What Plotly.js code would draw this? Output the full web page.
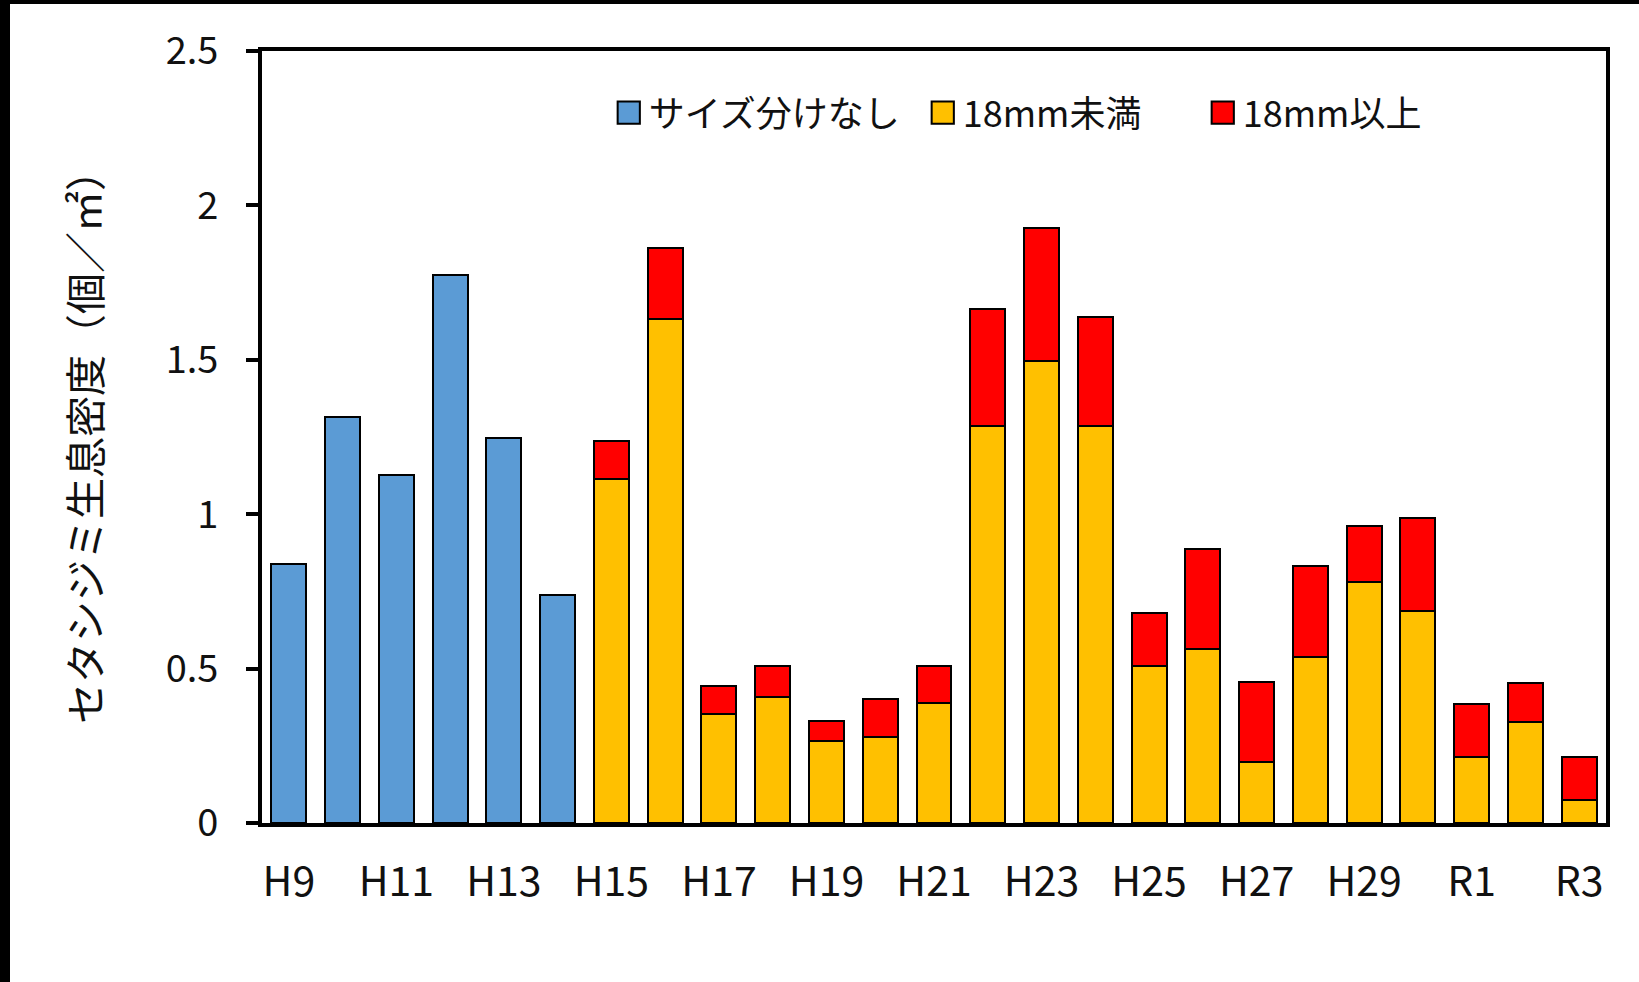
<!DOCTYPE html>
<html>
<head>
<meta charset="utf-8">
<script src="https://cdn.plot.ly/plotly-3.0.1.min.js"></script>
<style>
  html, body { margin: 0; padding: 0; background: #000; width: 1639px; height: 982px; overflow: hidden; }
  #chart { position: absolute; left: 10px; top: 4px; width: 1629px; height: 978px; background: #fff; }
</style>
</head>
<body>
<div id="chart"></div>
<script>
// Categories (fiscal years)
const categories = ['H9','H10','H11','H12','H13','H14','H15','H16','H17','H18','H19','H20','H21',
                    'H22','H23','H24','H25','H26','H27','H28','H29','H30','R1','R2','R3'];
// Tick labels shown on the x axis
const tickCats   = ['H9','H11','H13','H15','H17','H19','H21','H23','H25','H27','H29','R1','R3'];

// Series values (個/㎡)
const noSizeSplit = [0.840, 1.314, 1.128, 1.775, 1.247, 0.737,
                     null, null, null, null, null, null, null, null, null, null, null, null, null, null, null, null, null, null, null];
const under18mm   = [null, null, null, null, null, null,
                     1.114, 1.633, 0.353, 0.408, 0.266, 0.278, 0.388, 1.285, 1.495, 1.285,
                     0.509, 0.563, 0.197, 0.538, 0.780, 0.687, 0.214, 0.326, 0.076];
const over18mm    = [null, null, null, null, null, null,
                     0.122, 0.228, 0.090, 0.101, 0.063, 0.123, 0.120, 0.379, 0.433, 0.355,
                     0.172, 0.325, 0.260, 0.294, 0.182, 0.301, 0.172, 0.129, 0.138];

const seriesNames = ['サイズ分けなし', '18mm未満', '18mm以上'];
const seriesColors = ['#5B9BD5', '#FFC000', '#FF0000'];
const legendWidths = [269, 235, 235];

const FONT = '"Noto Sans CJK JP", "Noto Sans", sans-serif';
const outline = {color: '#000', width: 2};

const traces = [noSizeSplit, under18mm, over18mm].map((vals, i) => ({
  type: 'bar',
  name: seriesNames[i],
  x: categories,
  y: vals,
  legendwidth: legendWidths[i],
  marker: {color: seriesColors[i], line: outline}
}));

const layout = {
  width: 1629,
  height: 978,
  margin: {l: 252, r: 33, t: 47, b: 159},
  paper_bgcolor: '#fff',
  plot_bgcolor: '#fff',
  barmode: 'stack',
  bargap: 0.35,
  font: {family: FONT, color: '#111', size: 38},
  showlegend: true,
  legend: {
    orientation: 'h',
    x: 0.258, xanchor: 'left',
    y: 0.92, yanchor: 'middle',
    font: {family: FONT, size: 36, color: '#111'},
    bgcolor: 'rgba(0,0,0,0)',
    itemwidth: 30,
    traceorder: 'normal'
  },
  xaxis: {
    type: 'category',
    categoryorder: 'array',
    categoryarray: categories,
    tickmode: 'array',
    tickvals: tickCats,
    ticktext: tickCats,
    ticks: '',
    showline: true, linecolor: '#000', linewidth: 4, mirror: true,
    showgrid: false, zeroline: false,
    tickfont: {family: FONT, size: 41, color: '#111'},
    ticklabelstandoff: 20
  },
  yaxis: {
    range: [0, 2.5],
    dtick: 0.5,
    tick0: 0,
    ticks: 'outside', ticklen: 12, tickwidth: 4, tickcolor: '#000',
    showline: true, linecolor: '#000', linewidth: 4, mirror: true,
    showgrid: false, zeroline: false,
    tickfont: {family: FONT, size: 38, color: '#111'},
    ticklabelstandoff: 20,
    automargin: true,
    title: {text: 'セタシジミ生息密度（個／㎡）', font: {family: FONT, size: 41, color: '#111'}, standoff: 52}
  }
};

Plotly.newPlot('chart', traces, layout, {staticPlot: true, displayModeBar: false}).then(() => {
  document.querySelectorAll('#chart .legendpoints path').forEach(p => {
    const t = p.getAttribute('transform') || '';
    p.setAttribute('transform', t + ' scale(1.85)');
    p.style.strokeWidth = '1.1px';
  });
});
</script>
</body>
</html>
